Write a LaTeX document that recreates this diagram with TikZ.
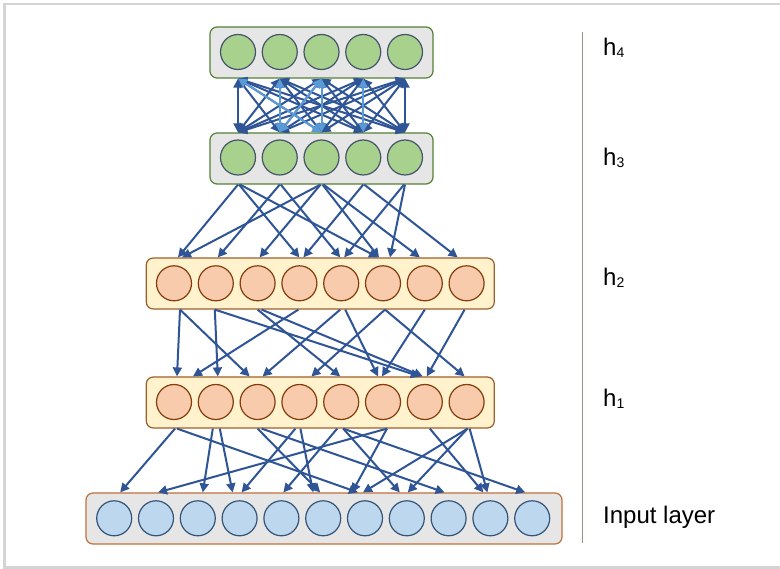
\documentclass[tikz,border=0pt]{standalone}
\usepackage{fontspec}
\setmainfont{Liberation Sans}
\usetikzlibrary{arrows.meta,calc}

\definecolor{linkblue}{HTML}{2F5597}
\definecolor{lightlink}{HTML}{5B9BD5}
\definecolor{greenfill}{HTML}{A9D18E}
\definecolor{greenedge}{HTML}{548235}
\definecolor{boxgray}{HTML}{E7E6E6}
\definecolor{circedge}{HTML}{44546A}
\definecolor{peach}{HTML}{F8CBAD}
\definecolor{peachedge}{HTML}{843C0C}
\definecolor{cream}{HTML}{FFF2CC}
\definecolor{creamedge}{HTML}{9E5F2B}
\definecolor{inputedge}{HTML}{C0703A}
\definecolor{bluefill}{HTML}{BDD7EE}
\definecolor{blueedge}{HTML}{335377}
\definecolor{framegray}{HTML}{D4D4D4}
\definecolor{rulegray}{HTML}{8C9A8A}

\tikzset{
  layerbox/.style={rounded corners=7pt, line width=1.2pt, minimum height=51pt, inner sep=0pt},
  unit/.style={circle, minimum size=35pt, inner sep=0pt, line width=1.2pt},
  link/.style={draw=linkblue, line width=2pt, -{Triangle[length=9pt,width=9pt]}},
  duallink/.style={draw=linkblue, line width=2pt, {Triangle[length=9pt,width=9pt]}-{Triangle[length=9pt,width=9pt]}},
  lightdual/.style={duallink, draw=lightlink},
  lbl/.style={anchor=base west, inner sep=0pt, font=\fontsize{24}{28}\selectfont},
}

% connector from a unit of one layer (leaving the box bottom) to a unit of the next (entering the box top)
\newcommand\wire[7][link]{\draw[#1] ($(#2-#3 |- #2.south)+(#4,0)$) -- ($(#5-#6 |- #5.north)+(#7,0)$);}
\newcommand\sub[1]{{\fontsize{14}{14}\selectfont\raisebox{-2pt}{#1}}}

\begin{document}
\begin{tikzpicture}[x=1pt,y=-1pt]
\useasboundingbox (0,0) rectangle (780,569);
\fill[white] (0,0) rectangle (780,569);

% outer frame
\draw[framegray, line width=2.4pt] (781,3.8) -- (4.5,3.8) -- (4.5,567.6) -- (781,567.6);

% layers
\node[layerbox, fill=boxgray, draw=greenedge, minimum width=223pt] (h4) at (321.5,52.5) {};
\node[layerbox, fill=boxgray, draw=greenedge, minimum width=223pt] (h3) at (321.5,158.5) {};
\node[layerbox, fill=cream, draw=creamedge, minimum width=348pt] (h2) at (320.3,283.5) {};
\node[layerbox, fill=cream, draw=creamedge, minimum width=348pt] (h1) at (320.3,402.5) {};
\node[layerbox, fill=boxgray, draw=inputedge, minimum width=476pt] (in) at (324,518.5) {};

\foreach \i in {1,...,5} {
  \node[unit, fill=greenfill, draw=circedge] (h4-\i) at ({321.5+(\i-3)*41.75},52) {};
  \node[unit, fill=greenfill, draw=circedge] (h3-\i) at ({321.5+(\i-3)*41.75},157.5) {};
}
\foreach \i in {1,...,8} {
  \node[unit, fill=peach, draw=peachedge] (h2-\i) at ({320.3+(\i-4.5)*41.8},283.3) {};
  \node[unit, fill=peach, draw=peachedge] (h1-\i) at ({320.3+(\i-4.5)*41.8},402) {};
}
\foreach \i in {1,...,11} {
  \node[unit, fill=bluefill, draw=blueedge] (in-\i) at ({323.2+(\i-6)*41.8},518.3) {};
}

% h4 <-> h3, fully connected
\foreach \a in {1,...,5} {
  \foreach \b in {1,...,5} {
    \wire[duallink]{h4}{\a}{0}{h3}{\b}{0}
  }
}
\wire[lightdual]{h4}{1}{0}{h3}{3}{0}
\wire[lightdual]{h4}{3}{0}{h3}{2}{0}
\wire[lightdual]{h4}{2}{0}{h3}{2}{0}
\wire[lightdual]{h4}{3}{0}{h3}{3}{0}
\wire[lightdual]{h4}{4}{0}{h3}{4}{0}

% h3 -> h2
\wire{h3}{1}{0}{h2}{1}{4}
\wire{h3}{1}{1}{h2}{4}{0}
\wire{h3}{1}{2}{h2}{6}{-5}
\wire{h3}{2}{0}{h2}{2}{2}
\wire{h3}{2}{1}{h2}{5}{-1}
\wire{h3}{3}{-1}{h2}{1}{8}
\wire{h3}{3}{-1}{h2}{3}{2}
\wire{h3}{3}{1}{h2}{6}{-4}
\wire{h3}{3}{2}{h2}{7}{-5}
\wire{h3}{4}{0}{h2}{4}{4}
\wire{h3}{4}{1}{h2}{8}{-9}
\wire{h3}{5}{-1}{h2}{5}{3}
\wire{h3}{5}{0}{h2}{6}{7}

% h2 -> h1
\wire{h2}{1}{6}{h1}{1}{3}
\wire{h2}{1}{6}{h1}{3}{-8}
\wire{h2}{2}{-1}{h1}{2}{2}
\wire{h2}{2}{-1}{h1}{7}{-5}
\wire{h2}{3}{0}{h1}{5}{-1}
\wire{h2}{3}{4}{h1}{7}{-2}
\wire{h2}{4}{-1}{h1}{1}{19}
\wire{h2}{5}{-1}{h1}{3}{5}
\wire{h2}{5}{4}{h1}{6}{-5}
\wire{h2}{6}{2}{h1}{4}{12}
\wire{h2}{6}{2}{h1}{8}{-2}
\wire{h2}{7}{0}{h1}{6}{-1}
\wire{h2}{8}{-2}{h1}{7}{2}

% h1 -> input
\wire{h1}{1}{1}{in}{1}{6}
\wire{h1}{1}{3}{in}{7}{-7}
\wire{h1}{2}{-3}{in}{3}{5}
\wire{h1}{2}{4}{in}{4}{-7}
\wire{h1}{3}{0}{in}{6}{-3}
\wire{h1}{3}{4}{in}{9}{-4}
\wire{h1}{4}{-4}{in}{4}{2}
\wire{h1}{4}{1}{in}{6}{-10}
\wire{h1}{5}{-4}{in}{5}{2}
\wire{h1}{5}{2}{in}{8}{-7}
\wire{h1}{5}{2}{in}{11}{-7}
\wire{h1}{6}{4}{in}{2}{2}
\wire{h1}{6}{4}{in}{7}{-13}
\wire{h1}{7}{5}{in}{10}{-7}
\wire{h1}{8}{1}{in}{8}{1}
\wire{h1}{8}{1}{in}{7}{-2}
\wire{h1}{8}{3}{in}{10}{-3}

% divider and layer names
\coordinate (ruletop) at (582,32);
\coordinate (rulebot) at (582,543);
\draw[rulegray, line width=1pt] (ruletop) -- (rulebot);
\node[lbl] (t4) at (603,56) {h\sub{4}};
\node[lbl] (t3) at (603,166) {h\sub{3}};
\node[lbl] (t2) at (603,286) {h\sub{2}};
\node[lbl] (t1) at (603,407) {h\sub{1}};
\node[lbl] (t0) at (603,524) {Input layer};
\end{tikzpicture}
\end{document}
